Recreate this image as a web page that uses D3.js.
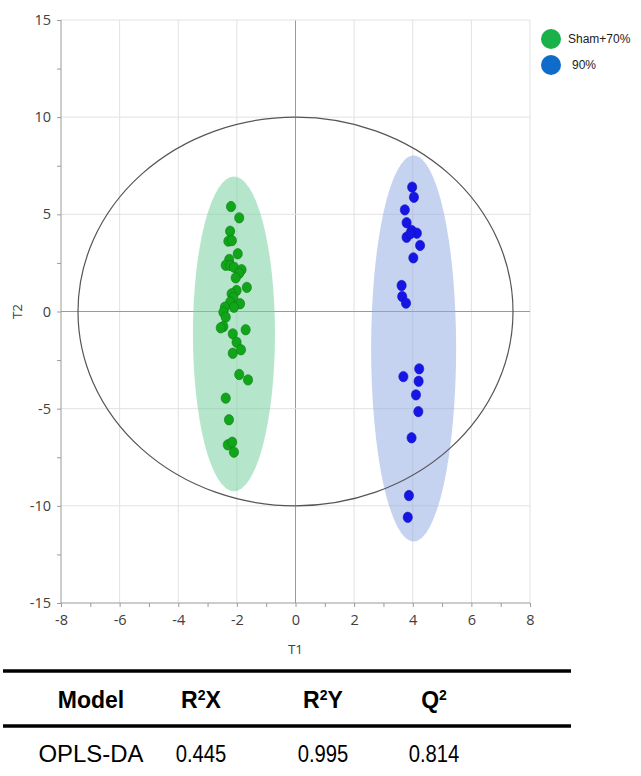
<!DOCTYPE html>
<html><head><meta charset="utf-8">
<script src="https://cdn.jsdelivr.net/npm/d3@7/dist/d3.min.js"></script>
<style>
html,body{margin:0;padding:0;background:#fff;}
svg{display:block;}
</style></head>
<body>
<script>
// ---- data ----
const groups = ["Sham+70%", "90%"];
const shamT1 = [-2.20,-1.92,-2.23,-2.29,-2.17,-1.97,-2.26,-2.38,-2.23,-2.10,-1.84,-1.92,-2.04,-1.66,-2.01,-2.18,-2.12,-2.23,-1.89,-2.10,-2.41,-2.46,-2.38,-2.46,-2.55,-1.70,-2.14,-2.01,-2.14,-1.86,-1.92,-1.62,-2.38,-2.27,-2.31,-2.16,-2.10];
const shamT2 = [5.40,4.82,4.13,3.62,3.65,2.97,2.68,2.38,2.37,2.28,2.15,1.97,1.73,1.24,1.08,0.91,0.71,0.48,0.40,0.22,0.22,-0.04,-0.29,-0.77,-0.84,-0.94,-1.15,-1.58,-2.15,-1.97,-3.24,-3.52,-4.46,-5.57,-6.86,-6.73,-7.24];
const highT1 = [3.98,4.04,3.73,3.79,3.96,4.14,3.79,3.92,4.25,4.02,3.62,3.64,3.77,4.22,3.68,4.20,4.11,4.19,3.96,3.87,3.83];
const highT2 = [6.40,5.88,5.23,4.57,4.17,4.03,3.82,4.01,3.40,2.76,1.34,0.77,0.43,-2.95,-3.35,-3.59,-4.29,-5.15,-6.50,-9.47,-10.59];
// confidence ellipses: [centerT1, centerT2, radiusT1, radiusT2]
const shamEllipse = [-2.1, -1.15, 1.4, 8.1];
const highEllipse = [4.03, -1.9, 1.45, 9.93];
const hotellingEllipse = [0, 0, 7.42, 10.0];
const xTicks = [-8,-6,-4,-2,0,2,4,6,8];
const yTicks = [-15,-10,-5,0,5,10,15];
const tableHeader = ["Model", "R2X", "R2Y", "Q2"];
const tableRow = ["OPLS-DA", "0.445", "0.995", "0.814"];

// ---- drawing ----
const W = 641, H = 776;
const svg = d3.select("body").append("svg").attr("width", W).attr("height", H);
const x = d3.scaleLinear().domain([-8, 8]).range([61, 530]);
const y = d3.scaleLinear().domain([-15, 15]).range([603, 20]);
const font = "'Liberation Sans', Arial, sans-serif";
const tickFont = "'Open Sans', 'Liberation Sans', sans-serif";

// grid
const g = svg.append("g");
g.selectAll(".gx").data(d3.range(-8, 8.01, 2).filter(v => v !== -8)).enter().append("line")
  .attr("x1", d => x(d)).attr("x2", d => x(d)).attr("y1", y(15)).attr("y2", y(-15))
  .attr("stroke", d => d === 0 ? "#9a9a9a" : "#e2e2e2").attr("stroke-width", 1);
g.selectAll(".gy").data(yTicks.filter(v => v !== -15)).enter().append("line")
  .attr("x1", x(-8)).attr("x2", x(8)).attr("y1", d => y(d)).attr("y2", d => y(d))
  .attr("stroke", d => d === 0 ? "#9a9a9a" : "#e2e2e2").attr("stroke-width", 1);

// axes
const xAxis = d3.axisBottom(x).tickValues(d3.range(-8, 8.01, 1)).tickSize(4)
  .tickFormat(d => xTicks.includes(d) ? d : "");
const gx = svg.append("g").attr("transform", `translate(0,${y(-15)})`).call(xAxis);
gx.select(".domain").attr("stroke", "#9a9a9a").attr("d", `M${x(-8)},0H${x(8)}`);
gx.selectAll(".tick line").attr("stroke", "#9a9a9a");
gx.selectAll(".tick text").attr("font-family", tickFont).attr("font-size", 14.5).attr("fill", "#404040").attr("dy", "1.05em");

const yAxis = d3.axisLeft(y).tickValues(d3.range(-15, 15.01, 2.5)).tickSize(4)
  .tickFormat(d => yTicks.includes(d) ? d : "");
const gy = svg.append("g").attr("transform", `translate(${x(-8)},0)`).call(yAxis);
gy.select(".domain").attr("stroke", "#9a9a9a").attr("d", `M0,${y(-15)}V${y(15)}`);
gy.selectAll(".tick line").attr("stroke", "#9a9a9a");
gy.selectAll(".tick text").attr("font-family", tickFont).attr("font-size", 14.5).attr("fill", "#404040").attr("x", -10);

svg.append("text").attr("x", x(0)).attr("y", 654).attr("text-anchor", "middle")
  .attr("font-family", tickFont).attr("font-size", 13.5).attr("fill", "#404040").text("T1");
svg.append("text").attr("transform", `translate(22,${y(0)}) rotate(-90)`).attr("text-anchor", "middle")
  .attr("font-family", tickFont).attr("font-size", 13.5).attr("fill", "#404040").text("T2");

// group ellipses
function ell(e, fill, stroke) {
  svg.append("ellipse").attr("cx", x(e[0])).attr("cy", y(e[1]))
    .attr("rx", x(e[0] + e[2]) - x(e[0])).attr("ry", y(e[1]) - y(e[1] + e[3]))
    .attr("fill", fill).attr("stroke", stroke).attr("stroke-width", 1.2);
}
ell(shamEllipse, "rgba(120,210,160,0.55)", "none");
ell(highEllipse, "rgba(140,165,225,0.5)", "none");
ell(hotellingEllipse, "none", "#555");

// points
function pts(xs, ys, fill, stroke) {
  svg.append("g").selectAll("ellipse").data(xs.map((v, i) => [v, ys[i]])).enter().append("ellipse")
    .attr("cx", d => x(d[0])).attr("cy", d => y(d[1])).attr("rx", 4.6).attr("ry", 5.2)
    .attr("fill", fill).attr("stroke", stroke).attr("stroke-width", 0.6);
}
pts(shamT1, shamT2, "#11a61a", "#0b7a10");
pts(highT1, highT2, "#1515e6", "#1010c0");

// legend
const legColors = ["#1bb14a", "#0f6ccb"];
const leg = svg.append("g");
groups.forEach((gname, i) => {
  leg.append("circle").attr("cx", 551).attr("cy", 39 + i * 26).attr("r", 10).attr("fill", legColors[i]);
  leg.append("text").attr("x", i === 0 ? 568 : 572).attr("y", 39 + i * 26 + 4)
    .attr("font-family", font).attr("font-size", 12).attr("fill", "#222").text(gname);
});

// table
const cols = [91, 201, 323, 434];
svg.append("line").attr("x1", 3).attr("x2", 571).attr("y1", 671).attr("y2", 671).attr("stroke", "#000").attr("stroke-width", 3.5);
svg.append("line").attr("x1", 3).attr("x2", 571).attr("y1", 726).attr("y2", 726).attr("stroke", "#000").attr("stroke-width", 3.5);
tableHeader.forEach((h, i) => {
  const t = svg.append("text").attr("x", cols[i]).attr("y", 708).attr("text-anchor", "middle")
    .attr("font-family", font).attr("font-size", 23).attr("font-weight", "bold").attr("fill", "#000");
  const m = h.match(/^([A-Z])2(.*)$/);
  if (m) {
    t.append("tspan").text(m[1]);
    t.append("tspan").attr("font-size", 14).attr("dy", -8).text("2");
    if (m[2]) t.append("tspan").attr("dy", 8).text(m[2]);
  } else t.text(h);
});
tableRow.forEach((v, i) => {
  const sx = i === 0 ? 1.04 : 0.88;
  svg.append("text").attr("transform", `translate(${cols[i]},762) scale(${sx},1)`).attr("text-anchor", "middle")
    .attr("font-family", font).attr("font-size", 23).attr("fill", "#000").text(v);
});
</script>
</body></html>
